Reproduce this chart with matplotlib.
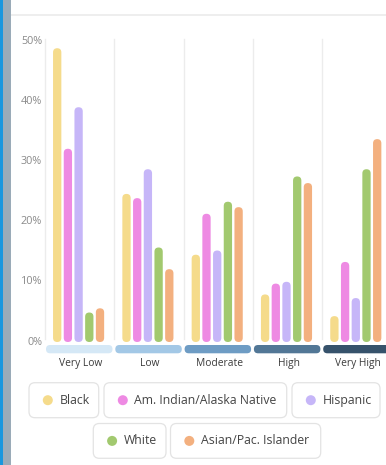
import matplotlib
matplotlib.use("Agg")
import matplotlib.pyplot as plt
from matplotlib.patches import FancyBboxPatch, Rectangle, Circle
from matplotlib.transforms import Affine2D

# ---- data -------------------------------------------------------------
categories = ["Very Low", "Low", "Moderate", "High", "Very High"]
series_names = ["Black", "Am. Indian/Alaska Native", "Hispanic", "White",
                "Asian/Pac. Islander"]
black = [48.8, 24.6, 14.5, 7.9, 4.3]
am_indian = [32.1, 23.9, 21.3, 9.7, 13.3]
hispanic = [39.0, 28.7, 15.2, 10.0, 7.3]
white = [4.9, 15.7, 23.3, 27.5, 28.7]
asian = [5.6, 12.1, 22.4, 26.4, 33.7]
y_ticks = [0, 10, 20, 30, 40, 50]
y_tick_labels = ["0%", "10%", "20%", "30%", "40%", "50%"]

series_values = [black, am_indian, hispanic, white, asian]
series_colors = ["#f5db8b", "#ee8ae3", "#c6b6f8", "#a2c96f", "#f3b07f"]
category_colors = ["#d5e8f6", "#a3c8e6", "#6e9cc4", "#527796", "#36526b"]

# ---- figure, pixel helpers -------------------------------------------
W, H, DPI = 386, 465, 100
fig = plt.figure(figsize=(W / DPI, H / DPI), dpi=DPI)
fig.patch.set_facecolor("white")
FONT = "Open Sans"

# transform for figure pixel coordinates with origin at top-left
px = Affine2D().scale(1, -1).translate(0, H).scale(1 / DPI) + fig.dpi_scale_trans

# left edge stripes and top rule
fig.add_artist(Rectangle((0, 0), 3.3, H, transform=px, color="#1a97de", lw=0))
fig.add_artist(Rectangle((3.3, 0), 7.7, H, transform=px, color="#9aabb8", lw=0))
fig.add_artist(Rectangle((11, 14), W - 11, 1.6, transform=px, color="#eeeeee", lw=0))

# ---- axes ---------------------------------------------------------------
ax_left, ax_right = 45.0, 391.5     # group boundaries span (pixels)
ax_top, ax_bottom = 41.0, 342.0     # 50% and 0% rows (pixels)
ax = fig.add_axes([ax_left / W, 1 - ax_bottom / H,
                   (ax_right - ax_left) / W, (ax_bottom - ax_top) / H])
ax.set_xlim(0, len(categories))
ax.set_ylim(0, 50)
ax.axis("off")

px_per_x = (ax_right - ax_left) / len(categories)
px_per_y = (ax_bottom - ax_top) / 50.0
aspect = px_per_x / px_per_y

# group separators
for i in range(len(categories)):
    ax.plot([i, i], [0.5, 50.3], color="#ececec", lw=1.0, clip_on=False, zorder=1)

# y tick labels
for t, lab in zip(y_ticks, y_tick_labels):
    ax.text(-3 / px_per_x, t, lab, ha="right", va="center", fontsize=7.8,
            color="#8a8a8a", family=FONT)

# rounded bars
bar_w = 8.3 / px_per_x
first_off = 12.2 / px_per_x
pitch = 10.7 / px_per_x
for k, (vals, col) in enumerate(zip(series_values, series_colors)):
    for i, v in enumerate(vals):
        xc = i + first_off + k * pitch
        ax.add_patch(FancyBboxPatch(
            (xc - bar_w / 2, 0), bar_w, v,
            boxstyle=f"round,pad=0,rounding_size={bar_w / 2}",
            mutation_aspect=aspect, facecolor=col, edgecolor="none",
            zorder=3, clip_on=False))

# category strips and labels
strip_h = 8.3 / px_per_y
strip_top = -3.0 / px_per_y
for i, (cat, col) in enumerate(zip(categories, category_colors)):
    x0 = i + 1.0 / px_per_x
    w = 66.5 / px_per_x
    r = 4.1 / px_per_x
    ax.add_patch(FancyBboxPatch(
        (x0, strip_top - strip_h), w, strip_h,
        boxstyle=f"round,pad=0,rounding_size={r}",
        mutation_aspect=aspect, facecolor=col, edgecolor="none",
        clip_on=False, zorder=3))
    ax.text(i + 0.5 + 1.0 / px_per_x, -21.5 / px_per_y, cat, ha="center",
            va="center", fontsize=7.4, color="#3c3c3c", family=FONT)

# ---- legend pills -----------------------------------------------------
legend_rows = [
    (382.7, 417.7, [(29.0, 98.7), (104.0, 286.7), (292.0, 380.0)]),
    (423.5, 458.3, [(93.3, 166.0), (170.5, 320.7)]),
]
idx = 0
for top, bot, boxes in legend_rows:
    cy = (top + bot) / 2
    for (l, rgt) in boxes:
        fig.add_artist(FancyBboxPatch(
            (l, top), rgt - l, bot - top, transform=px,
            boxstyle="round,pad=0,rounding_size=6",
            facecolor="white", edgecolor="#e3e3e3", lw=0.9))
        fig.add_artist(Circle((l + 18.8, cy), 5.0, transform=px,
                              facecolor=series_colors[idx], edgecolor="none"))
        fig.text((l + 30.5) / W, 1 - cy / H, series_names[idx], ha="left",
                 va="center", fontsize=8.8, color="#444444", family=FONT)
        idx += 1

fig.savefig("out.png", dpi=DPI)
